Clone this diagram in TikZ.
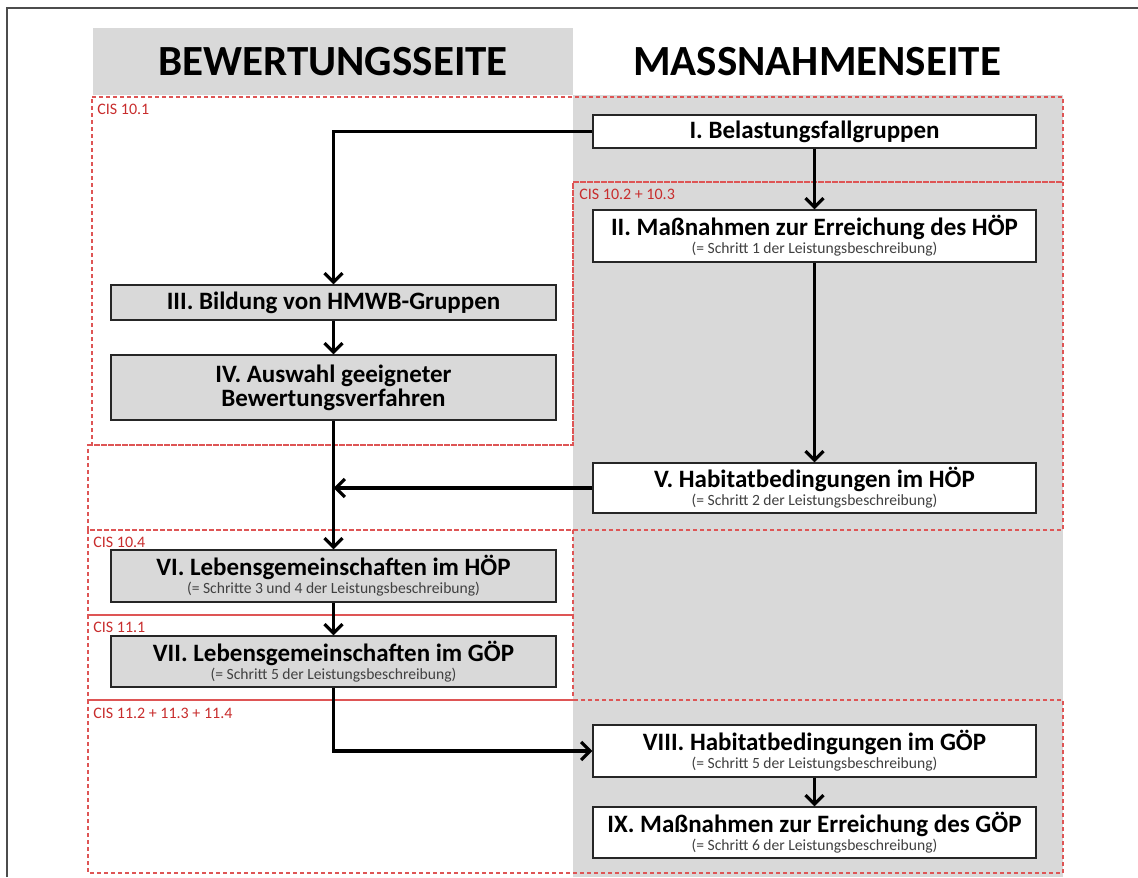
\documentclass[tikz,border=0pt]{standalone}
\usepackage{fontspec}
\setmainfont{Carlito}
\usetikzlibrary{arrows.meta}
\definecolor{cisred}{RGB}{200,45,45}
\definecolor{cisdash}{RGB}{222,85,85}
\definecolor{sidegray}{RGB}{217,217,217}
\newcommand{\stepfont}{\bfseries\fontsize{12.5}{15}\selectfont}
\newcommand{\notefont}{\color{black!75}\fontsize{7.8}{8}\selectfont}

\begin{document}
\begin{tikzpicture}[x=0.5pt,y=-0.5pt,
    leftstep/.style={draw=black!85,line width=0.6pt,fill=sidegray,minimum width=222.5pt,inner sep=0pt,align=center},
    rightstep/.style={leftstep,fill=white,minimum width=221.5pt},
    cisbox/.style={draw=cisdash,line width=0.7pt,dash pattern=on 2pt off 1.5pt},
    cislabel/.style={text=cisred,font=\fontsize{8}{9}\selectfont,anchor=west,inner sep=0pt},
    flow/.style={line width=1.6pt,-{Straight Barb[length=4.5pt,width=9pt]}},
    header/.style={font=\bfseries\fontsize{21.5}{25}\selectfont}]
    \useasboundingbox (0,0) rectangle (1138,877);
    \fill[sidegray] (93,28) rectangle (573,95);
    \fill[sidegray] (573,95) rectangle (1063,877);
    \draw[black!70,line width=1pt] (7,877) -- (7,8) -- (1138,8);
    \node[header] (bew) at (333,62) {BEWERTUNGSSEITE};
    \node[header] (mas) at (817,62) {MASSNAHMENSEITE};
    \draw[cisbox] (92,97) -- (1063,97) -- (1063,182) -- (573,182) -- (573,445) -- (92,445) -- cycle;
    \draw[cisbox] (573,182) -- (1063,182) -- (1063,530) -- (88,530) -- (88,445) -- (573,445) -- cycle;
    \draw[cisbox] (88,530) rectangle (573,615);
    \draw[cisbox] (88,615) rectangle (573,700);
    \draw[cisbox] (88,700) rectangle (1063,873);
    \node[cislabel] (cisa) at (97,109) {CIS 10.1};
    \node[cislabel] (cisb) at (579,194) {CIS 10.2 + 10.3};
    \node[cislabel] (cisc) at (93,542) {CIS 10.4};
    \node[cislabel] (cisd) at (93,627) {CIS 11.1};
    \node[cislabel] (cise) at (93,713) {CIS 11.2 + 11.3 + 11.4};
    \node[rightstep,minimum height=16.5pt] (s1) at (814.5,131.5) {\stepfont I. Belastungsfallgruppen};
    \node[rightstep,minimum height=26pt] (s2) at (814.5,236)
    {\stepfont II. Maßnahmen zur Erreichung des HÖP\\[-3pt]\notefont (= Schritt 1 der Leistungsbeschreibung)};
    \node[leftstep,minimum height=17.5pt] (s3) at (333.5,302.5) {\stepfont III. Bildung von HMWB-Gruppen};
    \node[leftstep,minimum height=32.5pt] (s4) at (333.5,387.5)
    {\stepfont IV. Auswahl geeigneter\\\stepfont Bewertungsverfahren};
    \node[rightstep,minimum height=25pt] (s5) at (814.5,488)
    {\stepfont V. Habitatbedingungen im HÖP\\[-3pt]\notefont (= Schritt 2 der Leistungsbeschreibung)};
    \node[leftstep,minimum height=26pt] (s6) at (333.5,576)
    {\stepfont VI. Lebensgemeinschaften im HÖP\\[-3pt]\notefont (= Schritte 3 und 4 der Leistungsbeschreibung)};
    \node[leftstep,minimum height=25.5pt] (s7) at (333.5,661.5)
    {\stepfont VII. Lebensgemeinschaften im GÖP\\[-3pt]\notefont (= Schritt 5 der Leistungsbeschreibung)};
    \node[rightstep,minimum height=26pt] (s8) at (814.5,751)
    {\stepfont VIII. Habitatbedingungen im GÖP\\[-3pt]\notefont (= Schritt 5 der Leistungsbeschreibung)};
    \node[rightstep,minimum height=25.5pt] (s9) at (814.5,832.5)
    {\stepfont IX. Maßnahmen zur Erreichung des GÖP\\[-3pt]\notefont (= Schritt 6 der Leistungsbeschreibung)};
    \draw[flow] (s1.west) -| (s3.north);
    \draw[flow] (s1) -- (s2);
    \draw[flow] (s2) -- (s5);
    \draw[flow] (s3) -- (s4);
    \draw[flow] (s4) -- (s6);
    \coordinate (merge) at (s4.south |- s5.west);
    \draw[flow] (s5.west) -- (merge);
    \draw[flow] (s6) -- (s7);
    \draw[flow] (s7.south) |- (s8.west);
    \draw[flow] (s8) -- (s9);
\end{tikzpicture}
\end{document}
